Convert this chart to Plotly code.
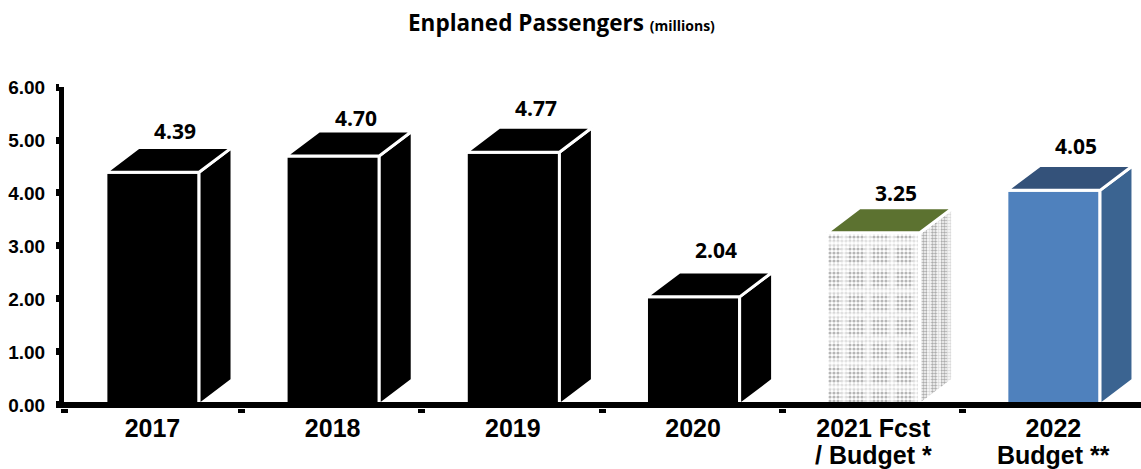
import plotly.graph_objects as go

categories = ["2017", "2018", "2019", "2020", "2021 Fcst", "2022"]
category_second_lines = ["", "", "", "", "/ Budget *", "Budget **"]
passengers = [4.39, 4.70, 4.77, 2.04, 3.25, 4.05]
y_ticks = [0, 1, 2, 3, 4, 5, 6]
y_tick_labels = ["0.00", "1.00", "2.00", "3.00", "4.00", "5.00", "6.00"]

# Pixel lift of each value label above its bar
label_lift = [41, 38, 44, 47, 40, 44]

BAR_WIDTH = 0.517
DEPTH_X = 0.183
DEPTH_Y = 0.47
HALF = BAR_WIDTH / 2

front_colors = ["#000000"] * 4 + ["#ffffff", "#4f81bd"]
top_colors = ["#000000"] * 4 + ["#5c7230", "#34527a"]
side_colors = ["#000000"] * 4 + ["#ffffff", "#3b6491"]
positions = list(range(len(categories)))

fig = go.Figure()
edge = dict(color="#ffffff", width=3)

for i, v in zip(positions, passengers):
    right = i + HALF
    left = i - HALF
    side_x = [right, right + DEPTH_X, right + DEPTH_X, right, right]
    side_y = [0, DEPTH_Y, v + DEPTH_Y, v, 0]
    side = dict(x=side_x, y=side_y, mode="lines", fill="toself", line=edge,
                fillcolor=side_colors[i], hoverinfo="skip")
    if i == 4:
        side["fillpattern"] = dict(shape=".", size=3, solidity=0.6,
                                   fgcolor="#5c5c5c", bgcolor="#ffffff")
    fig.add_trace(go.Scatter(**side))
    if i == 4:
        # Pale vertical stripes over the dotted side face
        fig.add_trace(go.Scatter(
            x=side_x, y=side_y, mode="lines", fill="toself", line=edge,
            fillcolor="rgba(0,0,0,0)", hoverinfo="skip",
            fillpattern=dict(shape="|", size=10, solidity=0.4, fgcolor="#ffffff",
                             fgopacity=0.55, bgcolor="rgba(0,0,0,0)"),
        ))
    fig.add_trace(go.Scatter(
        x=[left, left + DEPTH_X, right + DEPTH_X, right, left],
        y=[v, v + DEPTH_Y, v + DEPTH_Y, v, v],
        mode="lines", fill="toself", line=edge, fillcolor=top_colors[i],
        hoverinfo="skip",
    ))

fig.add_trace(go.Bar(
    x=positions, y=passengers, width=BAR_WIDTH,
    marker=dict(color=front_colors, line=edge),
    hoverinfo="skip",
))

# The forecast column gets a dotted fabric with lighter bands crossing it
fig.add_trace(go.Bar(
    x=[positions[4]], y=[passengers[4]], width=BAR_WIDTH,
    marker=dict(color="#ffffff", line=edge,
                pattern=dict(shape=".", size=4, solidity=0.5,
                             fgcolor="#6e6e6e", bgcolor="#ffffff")),
    hoverinfo="skip",
))
fig.add_trace(go.Bar(
    x=[positions[4]], y=[passengers[4]], width=BAR_WIDTH,
    marker=dict(color="rgba(0,0,0,0)", line=edge,
                pattern=dict(shape="+", size=24, solidity=0.42,
                             fgcolor="#ffffff", fgopacity=0.6,
                             bgcolor="rgba(0,0,0,0)")),
    hoverinfo="skip",
))

for i, v in zip(positions, passengers):
    fig.add_annotation(
        x=i + DEPTH_X / 1.5 + 0.005, y=v, text=f"<b>{v:.2f}</b>", showarrow=False,
        yshift=label_lift[i], yanchor="middle",
        font=dict(family="Open Sans", size=21, color="#000000"),
    )

# Second lines of the longer category labels, set tighter than tick text allows
for i, line in zip(positions, category_second_lines):
    if line:
        fig.add_annotation(
            x=i, xref="x", y=0, yref="paper", yshift=-47, yanchor="middle",
            text=f"<b>{line}</b>", showarrow=False,
            font=dict(family="Liberation Sans", size=25, color="#000000"),
        )

fig.add_annotation(
    xref="paper", yref="paper", x=0.4615, y=1, yshift=65, yanchor="middle",
    text="<b>Enplaned Passengers</b> <b><span style='font-size:14px'>(millions)</span></b>",
    showarrow=False, font=dict(family="Open Sans", size=22.5, color="#000000"),
)

# Baseline drawn over the columns
fig.add_shape(type="line", xref="paper", x0=0, x1=1, yref="y", y0=0, y1=0,
              line=dict(color="#000000", width=6), layer="above")

fig.update_layout(
    width=1141, height=469,
    margin=dict(l=64, r=0, t=87, b=61, pad=0),
    paper_bgcolor="#ffffff", plot_bgcolor="#ffffff",
    barmode="overlay", showlegend=False,
    xaxis=dict(
        automargin=False,
        range=[-0.491, 5.486], tickmode="array", tickvals=positions,
        ticktext=[f"<b>{c}</b>" for c in categories], ticks="",
        showgrid=False, zeroline=False, showline=False,
        ticklabelstandoff=3,
        tickfont=dict(family="Liberation Sans", size=25, color="#000000"),
        minor=dict(tickmode="array",
                   tickvals=[-0.491] + [i + 0.495 for i in positions],
                   ticks="outside", ticklen=4, tickwidth=7, tickcolor="#000000",
                   showgrid=False),
    ),
    yaxis=dict(
        automargin=False,
        range=[-0.057, 6], tickmode="array", tickvals=y_ticks,
        ticktext=[f"<b>{t}</b>" for t in y_tick_labels],
        ticks="outside", ticklen=3, tickwidth=7, tickcolor="#000000",
        showgrid=False, zeroline=False, showline=True,
        linecolor="#000000", linewidth=5, ticklabelstandoff=7,
        tickfont=dict(family="Liberation Sans", size=19, color="#000000"),
    ),
)

fig.write_html("out.html")
